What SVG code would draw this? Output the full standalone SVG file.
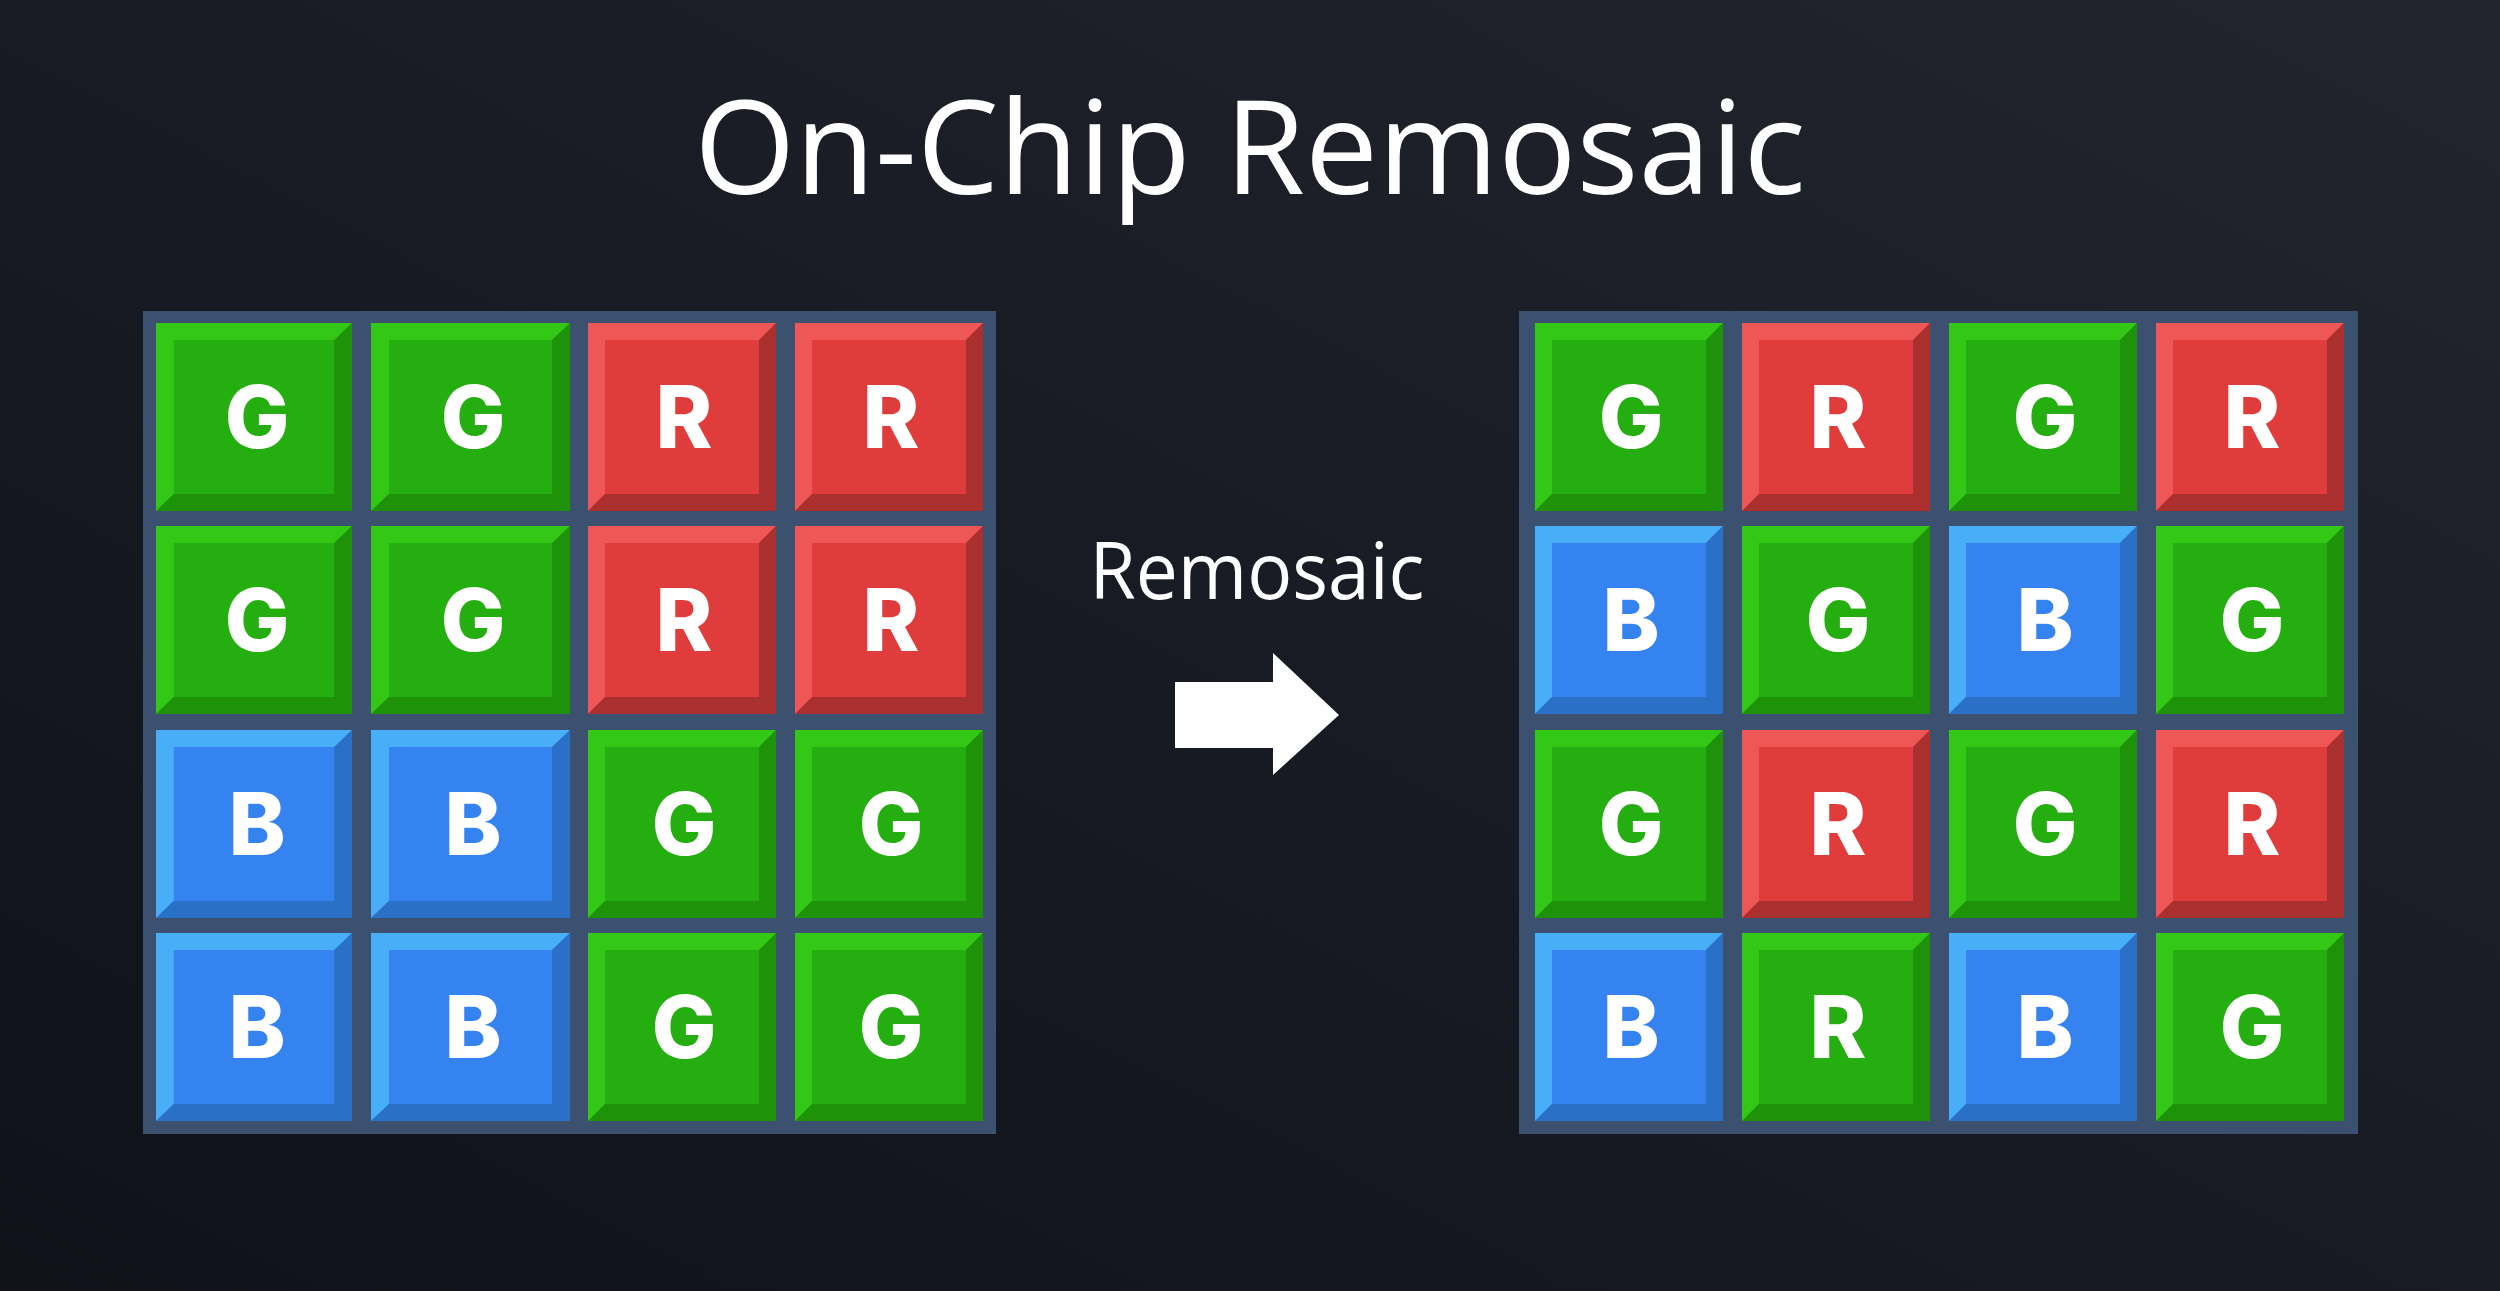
<svg xmlns="http://www.w3.org/2000/svg" xmlns:xlink="http://www.w3.org/1999/xlink" width="2500" height="1291" viewBox="0 0 2500 1291">
<defs>
<linearGradient id="bg" x1="1" y1="0" x2="0" y2="1">
<stop offset="0" stop-color="#22242e"/>
<stop offset="1" stop-color="#10121a"/>
</linearGradient>
<style>
.gF{fill:#25ae0f}.gL{fill:#33c815}.gD{fill:#1e930a}
.rF{fill:#e03c3c}.rL{fill:#ef5656}.rD{fill:#aa2f2f}
.bF{fill:#3483f0}.bL{fill:#48aef8}.bD{fill:#2a70c6}
.frame{fill:#3c5070}
.lbl{font-family:Inter,"Liberation Sans",sans-serif;font-weight:800;font-size:86px;fill:#ffffff;text-anchor:middle}
.ttl{font-family:"Open Sans","Liberation Sans",sans-serif;fill:#ffffff;text-anchor:middle}
</style>
<g id="tG"><rect width="188" height="188" class="gF"/><path class="gL" d="M0 0H188L171 17H17V171L0 188Z"/><path class="gD" d="M188 0V188H0L17 171H171V17Z"/></g>
<g id="tR"><rect width="188" height="188" class="rF"/><path class="rL" d="M0 0H188L171 17H17V171L0 188Z"/><path class="rD" d="M188 0V188H0L17 171H171V17Z"/></g>
<g id="tB"><rect width="188" height="188" class="bF"/><path class="bL" d="M0 0H188L171 17H17V171L0 188Z"/><path class="bD" d="M188 0V188H0L17 171H171V17Z"/></g>
</defs>
<rect width="2500" height="1291" fill="url(#bg)"/>
<text class="ttl" x="1250" y="194" font-size="130">On-Chip Remosaic</text>

<g id="left-grid">
<rect class="frame" x="143" y="311" width="853" height="823"/>
<g id="L11"><use xlink:href="#tG" transform="translate(156,323) scale(1.04255,1)"/><text class="lbl" x="257" y="448">G</text></g>
<g id="L12"><use xlink:href="#tG" transform="translate(371,323) scale(1.05851,1)"/><text class="lbl" x="473" y="448">G</text></g>
<g id="L13"><use xlink:href="#tR" transform="translate(588,323)"/><text class="lbl" x="684" y="448">R</text></g>
<g id="L14"><use xlink:href="#tR" transform="translate(795,323)"/><text class="lbl" x="891" y="448">R</text></g>
<g id="L21"><use xlink:href="#tG" transform="translate(156,526) scale(1.04255,1)"/><text class="lbl" x="257" y="651">G</text></g>
<g id="L22"><use xlink:href="#tG" transform="translate(371,526) scale(1.05851,1)"/><text class="lbl" x="473" y="651">G</text></g>
<g id="L23"><use xlink:href="#tR" transform="translate(588,526)"/><text class="lbl" x="684" y="651">R</text></g>
<g id="L24"><use xlink:href="#tR" transform="translate(795,526)"/><text class="lbl" x="891" y="651">R</text></g>
<g id="L31"><use xlink:href="#tB" transform="translate(156,730) scale(1.04255,1)"/><text class="lbl" x="257" y="855">B</text></g>
<g id="L32"><use xlink:href="#tB" transform="translate(371,730) scale(1.05851,1)"/><text class="lbl" x="473" y="855">B</text></g>
<g id="L33"><use xlink:href="#tG" transform="translate(588,730)"/><text class="lbl" x="684" y="855">G</text></g>
<g id="L34"><use xlink:href="#tG" transform="translate(795,730)"/><text class="lbl" x="891" y="855">G</text></g>
<g id="L41"><use xlink:href="#tB" transform="translate(156,933) scale(1.04255,1)"/><text class="lbl" x="257" y="1058">B</text></g>
<g id="L42"><use xlink:href="#tB" transform="translate(371,933) scale(1.05851,1)"/><text class="lbl" x="473" y="1058">B</text></g>
<g id="L43"><use xlink:href="#tG" transform="translate(588,933)"/><text class="lbl" x="684" y="1058">G</text></g>
<g id="L44"><use xlink:href="#tG" transform="translate(795,933)"/><text class="lbl" x="891" y="1058">G</text></g>
</g>

<g id="right-grid">
<rect class="frame" x="1519" y="311" width="839" height="823"/>
<g id="R11"><use xlink:href="#tG" transform="translate(1535,323)"/><text class="lbl" x="1631" y="448">G</text></g>
<g id="R12"><use xlink:href="#tR" transform="translate(1742,323)"/><text class="lbl" x="1838" y="448">R</text></g>
<g id="R13"><use xlink:href="#tG" transform="translate(1949,323)"/><text class="lbl" x="2045" y="448">G</text></g>
<g id="R14"><use xlink:href="#tR" transform="translate(2156,323)"/><text class="lbl" x="2252" y="448">R</text></g>
<g id="R21"><use xlink:href="#tB" transform="translate(1535,526)"/><text class="lbl" x="1631" y="651">B</text></g>
<g id="R22"><use xlink:href="#tG" transform="translate(1742,526)"/><text class="lbl" x="1838" y="651">G</text></g>
<g id="R23"><use xlink:href="#tB" transform="translate(1949,526)"/><text class="lbl" x="2045" y="651">B</text></g>
<g id="R24"><use xlink:href="#tG" transform="translate(2156,526)"/><text class="lbl" x="2252" y="651">G</text></g>
<g id="R31"><use xlink:href="#tG" transform="translate(1535,730)"/><text class="lbl" x="1631" y="855">G</text></g>
<g id="R32"><use xlink:href="#tR" transform="translate(1742,730)"/><text class="lbl" x="1838" y="855">R</text></g>
<g id="R33"><use xlink:href="#tG" transform="translate(1949,730)"/><text class="lbl" x="2045" y="855">G</text></g>
<g id="R34"><use xlink:href="#tR" transform="translate(2156,730)"/><text class="lbl" x="2252" y="855">R</text></g>
<g id="R41"><use xlink:href="#tB" transform="translate(1535,933)"/><text class="lbl" x="1631" y="1058">B</text></g>
<g id="R42"><use xlink:href="#tG" transform="translate(1742,933)"/><text class="lbl" x="1838" y="1058">R</text></g>
<g id="R43"><use xlink:href="#tB" transform="translate(1949,933)"/><text class="lbl" x="2045" y="1058">B</text></g>
<g id="R44"><use xlink:href="#tG" transform="translate(2156,933)"/><text class="lbl" x="2252" y="1058">G</text></g>
</g>

<g id="connectors">
<text class="ttl" x="1257" y="599" font-size="78" textLength="335" lengthAdjust="spacingAndGlyphs">Remosaic</text>
<polygon fill="#ffffff" points="1175,682 1273,682 1273,653 1339,715 1273,775 1273,748 1175,748"/>
</g>
</svg>
